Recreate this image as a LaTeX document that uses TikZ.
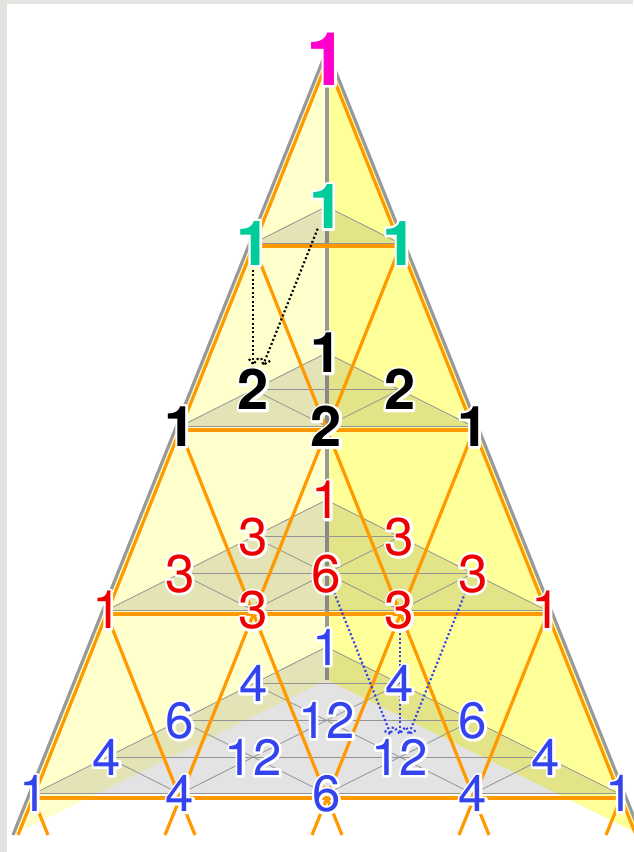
\documentclass[tikz,border=0pt]{standalone}
\usepackage{fontspec}
\setmainfont{TeX Gyre Heros}
\usetikzlibrary{arrows.meta,calc}
\definecolor{pagegray}{HTML}{E5E3DF}
\definecolor{paleyellow}{HTML}{FFFFCC}
\definecolor{deepyellow}{HTML}{FFFF99}
\definecolor{edgeorange}{HTML}{FF9900}
\definecolor{edgegray}{HTML}{999999}
\definecolor{labmagenta}{HTML}{FF00CC}
\definecolor{labgreen}{HTML}{00CC99}
\definecolor{labred}{HTML}{EE0000}
\definecolor{labblue}{HTML}{3344EE}
% white outline round a digit
\newcommand{\halo}[1]{\rlap{\special{pdf:code q 1 Tr 5 w 1 j 1 J 1 1 1 RG 1 1 1 rg}#1\special{pdf:code Q}}#1}
\pgfdeclarearrow{
  name=DotBarb,
  setup code={\pgfarrowssettipend{0pt}},
  drawing code={\pgfsetdash{{2pt}{2.2pt}}{0pt}\pgfpathmoveto{\pgfpoint{-6pt}{5pt}}\pgfpathlineto{\pgfpointorigin}\pgfpathlineto{\pgfpoint{-6pt}{-5pt}}\pgfusepathqstroke}
}
\pgfdeclarelayer{back}
\pgfdeclarelayer{mesh}
\pgfsetlayers{back,mesh,main}
\tikzset{
  lab/.style={inner sep=0pt,text depth=0pt},
  toplab/.style={lab,text=labmagenta,font=\fontsize{74}{74}\selectfont\bfseries},
  greenlab/.style={lab,text=labgreen,font=\fontsize{62}{62}\selectfont\bfseries},
  blacklab/.style={lab,text=black,font=\fontsize{56}{56}\selectfont\bfseries},
  redlab/.style={lab,text=labred,font=\fontsize{53}{53}\selectfont},
  bluelab/.style={lab,text=labblue,font=\fontsize{51}{51}\selectfont},
  orange/.style={line width=3.2pt,edgeorange},
  grayedge/.style={line width=3.2pt,edgegray},
  olive/.style={fill=black,fill opacity=.11},
  thin/.style={line width=.8pt,black!42},
  blackdots/.style={line width=2.2pt,black,dash pattern=on 2pt off 2.4pt,-DotBarb,shorten >=5pt},
  bluedots/.style={line width=2.2pt,labblue,dash pattern=on 2pt off 2.4pt,-DotBarb,shorten >=5pt}
}
\begin{document}
\begin{tikzpicture}[x=1pt,y=-1pt]
  \useasboundingbox (0,0) rectangle (633,852);
  \clip (0,0) rectangle (633,852);
  \begin{pgfonlayer}{back}
    \fill[pagegray] (0,0) rectangle (633,852);
    \fill[white] (7,4) rectangle (633,852);
    \coordinate (tip) at (327,50);
    \coordinate (mid) at (327,680);
    \coordinate (foot1) at (13,835);
    \coordinate (foot2) at (641,835);
    \fill[paleyellow] (tip)--(mid)--(foot1)--cycle;
    \fill[deepyellow] (tip)--(mid)--(foot2)--cycle;
    \draw[grayedge] (foot1)--(tip)--(foot2);
    \draw[grayedge] (tip)--(mid);
  \end{pgfonlayer}
  \node[toplab] (apex) at (327,59) {\halo{1}};
  % tetrahedra, one per row, labels are the trinomials
  \foreach \n/\ytop/\sty in {1/206.5/greenlab,2/353/blacklab,3/500/redlab,4/647/bluelab}{
    \foreach \j in {0,...,\n}{
      \foreach \k in {0,...,\j}{
        \pgfmathtruncatemacro{\val}{factorial(\n)/(factorial(\n-\j)*factorial(\k)*factorial(\j-\k))}
        \pgfmathsetmacro{\xx}{326.5+(2*\k-\j)*73.2}
        \pgfmathsetmacro{\yy}{\ytop+\j*36.7}
        \node[\sty] (t\n-\j-\k) at (\xx,\yy) {\halo{\val}};
        \pgfmathtruncatemacro{\jj}{\j-1}
        \pgfmathtruncatemacro{\kk}{\k-1}
        \begin{pgfonlayer}{mesh}
          \ifnum\k<\j \draw[thin] (t\n-\j-\k.center)--(t\n-\jj-\k.center); \fi
          \ifnum\k>0
            \draw[thin] (t\n-\j-\k.center)--(t\n-\jj-\kk.center);
            \draw[thin] (t\n-\j-\k.center)--(t\n-\j-\kk.center);
          \fi
        \end{pgfonlayer}
      }
    }
    \begin{pgfonlayer}{back}
      \fill[olive] (t\n-0-0.center)--(t\n-\n-0.center)--(t\n-\n-\n.center)--cycle;
    \end{pgfonlayer}
  }
  % orange lattice
  \begin{pgfonlayer}{mesh}
    \foreach \r in {0,...,4}{
      \foreach \k in {0,...,\r}{
        \pgfmathsetmacro{\xx}{327+(2*\k-\r)*73.5}
        \pgfmathsetmacro{\yy}{62+\r*184}
        \coordinate (o\r-\k) at (\xx,\yy);
      }
    }
    \foreach \r in {1,...,4}{
      \draw[orange] (o\r-0)--(o\r-\r);
      \foreach \k in {0,...,\r}{
        \pgfmathtruncatemacro{\rr}{\r-1}
        \pgfmathtruncatemacro{\kk}{\k-1}
        \ifnum\k<\r \draw[orange] (o\r-\k)--(o\rr-\k); \fi
        \ifnum\k>0 \draw[orange] (o\r-\k)--(o\rr-\kk); \fi
      }
    }
    \foreach \k in {0,...,4}{
      \coordinate (s\k a) at ($(o4-\k)+(-15,37)$);
      \coordinate (s\k b) at ($(o4-\k)+(15,37)$);
      \draw[orange] (s\k a)--(o4-\k)--(s\k b);
    }
    \draw[blackdots] (t1-1-0)--(t2-1-0);
    \draw[blackdots] (t1-0-0)--(t2-1-0);
    \draw[bluedots] (t3-2-1)--(t4-3-2);
    \draw[bluedots] (t3-3-2)--(t4-3-2);
    \draw[bluedots] (t3-2-2)--(t4-3-2);
  \end{pgfonlayer}
\end{tikzpicture}
\end{document}
